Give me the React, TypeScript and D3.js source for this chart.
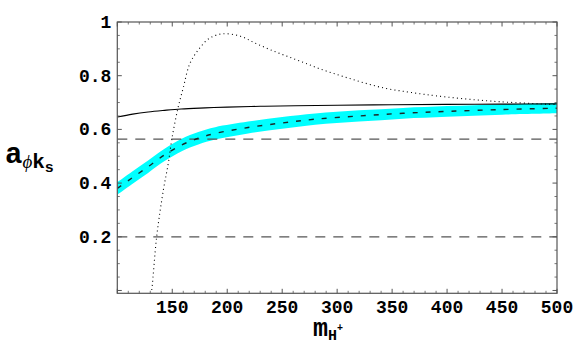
import React from 'react';
import * as d3 from 'd3';

// x axis: charged Higgs mass
const xTicks = [150, 200, 250, 300, 350, 400, 450, 500];
const yTicks = [0.2, 0.4, 0.6, 0.8, 1];

// solid line
const solidM = [100, 114, 128, 143, 158, 180, 200, 230, 262, 300, 350, 400, 450, 500];
const solidA = [0.646, 0.657, 0.665, 0.671, 0.676, 0.68, 0.683, 0.686, 0.688, 0.69, 0.692, 0.693, 0.694, 0.695];

// central (dashed) curve of the cyan band, with half-width
const bandM = [100, 113, 128, 143, 158.6, 173.7, 189, 219, 250, 280, 320, 360, 400, 450, 500];
const bandA = [0.38, 0.418, 0.461, 0.505, 0.542, 0.567, 0.585, 0.607, 0.624, 0.638, 0.65, 0.66, 0.667, 0.674, 0.679];
const bandW = [0.023, 0.023, 0.023, 0.023, 0.023, 0.023, 0.023, 0.022, 0.022, 0.021, 0.021, 0.02, 0.02, 0.019, 0.019];

// dotted curve
const dotM = [129, 131.3, 135.8, 141.9, 146.4, 149.5, 155, 160, 166, 174, 184, 196, 212, 225, 239, 254, 269, 284, 300, 315, 330, 345, 360, 375, 390, 418, 448, 500];
const dotA = [-0.06, 0.0, 0.2, 0.374, 0.474, 0.561, 0.676, 0.755, 0.845, 0.898, 0.94, 0.956, 0.947, 0.922, 0.897, 0.873, 0.85, 0.826, 0.804, 0.785, 0.767, 0.752, 0.742, 0.733, 0.725, 0.713, 0.703, 0.692];

// horizontal dashed reference lines
const hLines = [0.564, 0.2];

const W = 576;
const H = 356;
const left = 117.3;
const right = 557;
const top = 22;
const bottom = 293.3;

export default function App() {
  const x = d3.scaleLinear().domain([100, 500]).range([left, right]);
  const y = d3.scaleLinear().domain([-0.0105, 1]).range([bottom, top]);

  const pts = (ms: number[], as: number[]) => ms.map((m, i) => [m, as[i]] as [number, number]);

  const line = d3.line<[number, number]>()
    .x(d => x(d[0]))
    .y(d => y(d[1]))
    .curve(d3.curveCatmullRom.alpha(0.5));

  const bandData = bandM.map((m, i) => ({ m, lo: bandA[i] - bandW[i], hi: bandA[i] + bandW[i] }));
  const area = d3.area<{ m: number; lo: number; hi: number }>()
    .x(d => x(d.m))
    .y0(d => y(d.lo))
    .y1(d => y(d.hi))
    .curve(d3.curveCatmullRom.alpha(0.5));

  const minorX = d3.range(110, 500, 10).filter(v => v % 50 !== 0);
  const majorX = d3.range(100, 501, 50);
  const minorY = d3.range(0.05, 1, 0.05).filter(v => Math.abs(v * 5 - Math.round(v * 5)) > 0.01);
  const majorY = [0, ...yTicks];

  const frame = '#555';
  const font = '"Liberation Mono", "DejaVu Sans Mono", monospace';

  return (
    <svg width={W} height={H} style={{ position: 'absolute', left: 0, top: 0, background: '#fff' }}>
      <defs>
        <clipPath id="plot">
          <rect x={left} y={top} width={right - left} height={bottom - top} />
        </clipPath>
      </defs>

      <g clipPath="url(#plot)">
        <path d={area(bandData) ?? ''} fill="#0ff" />
        {hLines.map(v => (
          <line key={v} x1={left} x2={right} y1={y(v)} y2={y(v)}
            stroke="#555" strokeWidth={1.3} strokeDasharray="10 8" />
        ))}
        <path d={line(pts(solidM, solidA)) ?? ''} fill="none" stroke="#000" strokeWidth={1.1} />
        <path d={line(pts(bandM, bandA)) ?? ''} fill="none" stroke="#1a2a2a" strokeWidth={1.4} strokeDasharray="5 8" />
        <path d={line(pts(dotM, dotA)) ?? ''} fill="none" stroke="#000" strokeWidth={1.1} strokeDasharray="1 3.2" />
      </g>

      {/* frame */}
      <rect x={left} y={top} width={right - left} height={bottom - top} fill="none" stroke={frame} strokeWidth={1.2} />

      {/* ticks, drawn inward on all sides */}
      {majorX.map(v => (
        <g key={'mx' + v} stroke={frame} strokeWidth={1}>
          <line x1={x(v)} x2={x(v)} y1={bottom} y2={bottom - 4.5} />
          <line x1={x(v)} x2={x(v)} y1={top} y2={top + 4.5} />
        </g>
      ))}
      {minorX.map(v => (
        <g key={'nx' + v} stroke={frame} strokeWidth={0.8}>
          <line x1={x(v)} x2={x(v)} y1={bottom} y2={bottom - 2.5} />
          <line x1={x(v)} x2={x(v)} y1={top} y2={top + 2.5} />
        </g>
      ))}
      {majorY.map(v => (
        <g key={'my' + v} stroke={frame} strokeWidth={1}>
          <line x1={left} x2={left + 4.5} y1={y(v)} y2={y(v)} />
          <line x1={right} x2={right - 4.5} y1={y(v)} y2={y(v)} />
        </g>
      ))}
      {minorY.map(v => (
        <g key={'ny' + v} stroke={frame} strokeWidth={0.8}>
          <line x1={left} x2={left + 2.5} y1={y(v)} y2={y(v)} />
          <line x1={right} x2={right - 2.5} y1={y(v)} y2={y(v)} />
        </g>
      ))}

      {/* tick labels */}
      {xTicks.map(v => (
        <text key={'tx' + v} x={x(v)} y={313} textAnchor="middle"
          fontFamily={font} fontWeight="bold" fontSize={18} fill="#000">{v}</text>
      ))}
      {yTicks.map(v => (
        <text key={'ty' + v} x={left - 6} y={y(v) + 6} textAnchor="end"
          fontFamily={font} fontWeight="bold" fontSize={18} fill="#000">{v === 1 ? '1' : v.toFixed(1)}</text>
      ))}

      {/* axis titles */}
      <text x={5} y={163} fontFamily={font} fontWeight="bold" fontSize={29} fill="#000">
        a
        <tspan dy={5} fontFamily='"Liberation Serif", serif' fontStyle="italic" fontWeight="normal" fontSize={19}>ϕ</tspan>
        <tspan fontSize={21}>k</tspan>
        <tspan dy={4} fontSize={15}>s</tspan>
      </text>
      <text x={313} y={336} fontFamily={font} fontWeight="bold" fontSize={25} fill="#000">
        m
        <tspan dy={4} fontSize={15}>H</tspan>
        <tspan dy={-9} fontSize={10}>+</tspan>
      </text>
    </svg>
  );
}
